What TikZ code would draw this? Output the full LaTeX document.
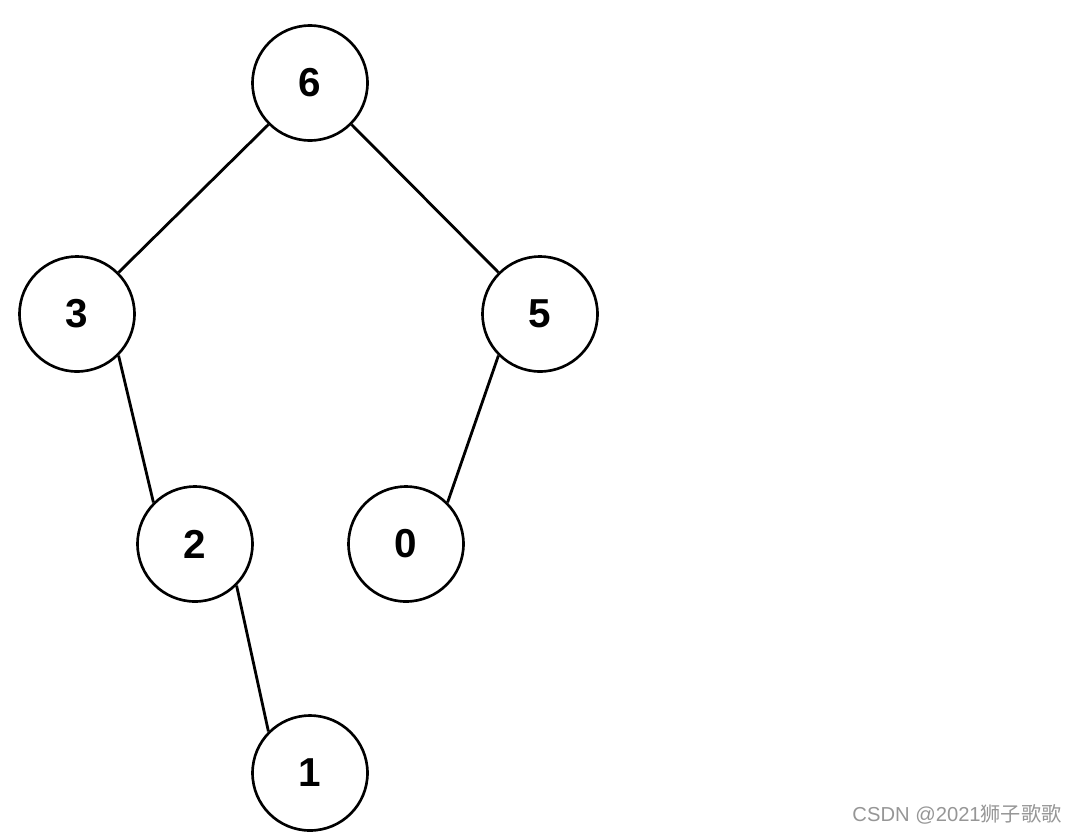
\documentclass[tikz,border=0pt]{standalone}
\usepackage{fontspec}
\setmainfont{Liberation Sans}
\newfontfamily\cjk{Noto Sans CJK SC}
\usetikzlibrary{positioning}
\definecolor{markgray}{RGB}{150,150,150}
\tikzset{treenode/.style={draw=black, fill=white, circle, minimum size=2.3cm,
             inner sep=0pt, line width=1.5pt, font=\fontsize{23}{26}\selectfont\bfseries},
         treeedge/.style={draw=black, line width=1.6pt}}
\begin{document}
\begin{tikzpicture}[x=0.02cm, y=-0.02cm]
          \useasboundingbox (0,0) rectangle (1067,832);
          \node[treenode] (n6) at (310, 83) {6};
          \node[treenode] (n3) at ( 77,314) {3};
          \node[treenode] (n5) at (540,314) {5};
          \node[treenode] (n2) at (195,544) {2};
          \node[treenode] (n0) at (406,544) {0};
          \node[treenode] (n1) at (310,773) {1};
          \draw[treeedge] (n6.south west) -- (n3.north east);
          \draw[treeedge] (n6.south east) -- (n5.north west);
          \draw[treeedge] (n3.south east) -- (n2.north west);
          \draw[treeedge] (n5.south west) -- (n0.north east);
          \draw[treeedge] (n2.south east) -- (n1.north west);
          \node[text=markgray, font=\fontsize{11.5}{13}\selectfont, inner sep=0pt] (mark) at (957,814) {CSDN @2021{\cjk 狮子歌歌}};
        \end{tikzpicture}
\end{document}
